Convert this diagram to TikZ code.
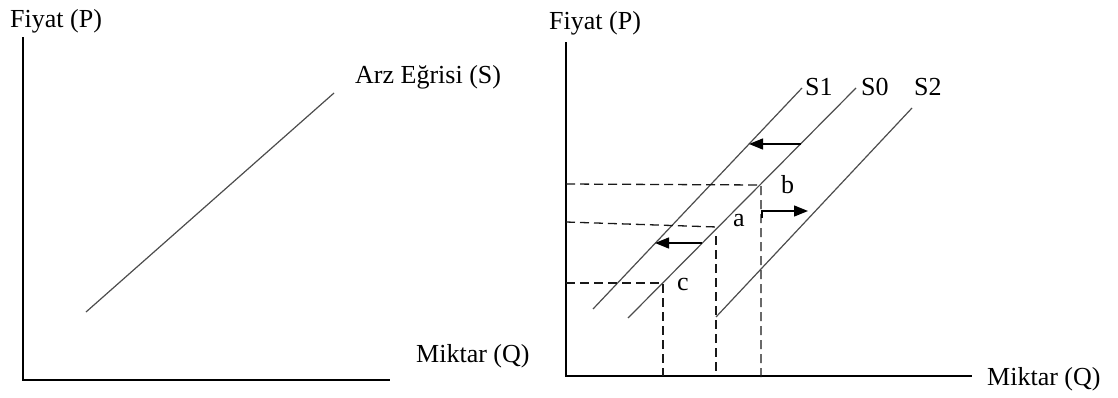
\documentclass[tikz,border=0pt]{standalone}
\usepackage{fontspec}
\setmainfont{Liberation Serif}
\usetikzlibrary{arrows.meta}
\begin{document}
\begin{tikzpicture}[x=1pt,y=-1pt,
  lbl/.style={anchor=base west,inner sep=0pt,font=\fontsize{26}{30}\selectfont},
  axis/.style={line width=1.6pt,black},
  curve/.style={line width=1.2pt,black!70},
  guide/.style={line width=1.3pt,black!90,dash pattern=on 9pt off 5pt},
  shiftarrow/.style={line width=1.3pt,-{Triangle[length=14pt,width=11pt]}}]
\useasboundingbox (0,0) rectangle (1118,397);
% ---- left panel
\coordinate (L0) at (23,380);
\coordinate (Ltop) at (23,37);
\coordinate (Lright) at (390,380);
\draw[axis] (Ltop) -- (L0) -- (Lright);
\coordinate (Sa) at (86,312);
\coordinate (Sb) at (334,93);
\draw[curve] (Sa) -- (Sb);
\node[lbl] (lp) at (10,27) {Fiyat (P)};
\node[lbl] (ls) at (355,83) {Arz Eğrisi (S)};
\node[lbl] (lq) at (416,362) {Miktar (Q)};
% ---- right panel
\coordinate (R0) at (566,376);
\coordinate (Rtop) at (566,42);
\coordinate (Rright) at (972,376);
\draw[axis] (Rtop) -- (R0) -- (Rright);
\node[lbl] (rp) at (549,29) {Fiyat (P)};
\node[lbl] (rq) at (987,385) {Miktar (Q)};
% supply curves
\coordinate (S1a) at (593,309); \coordinate (S1b) at (802,88);
\coordinate (S0a) at (628,318); \coordinate (S0b) at (856,88);
\coordinate (S2a) at (716,317); \coordinate (S2b) at (912,108);
\draw[curve] (S1a) -- (S1b);
\draw[curve] (S0a) -- (S0b);
\draw[curve] (S2a) -- (S2b);
\node[lbl] (s1) at (805,95) {S1};
\node[lbl] (s0) at (861,95) {S0};
\node[lbl] (s2) at (914,95) {S2};
% equilibrium points
\coordinate (b) at (761,185);
\coordinate (a) at (717,227);
\coordinate (c) at (663,283);
\coordinate (bY) at (566,184);
\coordinate (aY) at (566,222);
\coordinate (cY) at (566,283);
\coordinate (bX) at (761,380);
\coordinate (aX) at (716,376);
\coordinate (aV) at (716,236);
\coordinate (cX) at (663,376);
\draw[guide] (bY) -- (b) -- (bX);
\draw[guide] (aY) -- (a);
\draw[guide] (aV) -- (aX);
\draw[guide] (cY) -- (c) -- (cX);
\node[lbl] (lb) at (781,193) {b};
\node[lbl] (la) at (733,226) {a};
\node[lbl] (lc) at (677,290) {c};
% shift arrows
\coordinate (t1) at (801,144); \coordinate (t2) at (749,144);
\coordinate (m1) at (702,243); \coordinate (m2) at (655,243);
\coordinate (r0) at (762,218); \coordinate (r1) at (762,211); \coordinate (r2) at (808,211);
\draw[shiftarrow] (t1) -- (t2);
\draw[shiftarrow] (m1) -- (m2);
\draw[shiftarrow] (r0) -- (r1) -- (r2);
\end{tikzpicture}
\end{document}
